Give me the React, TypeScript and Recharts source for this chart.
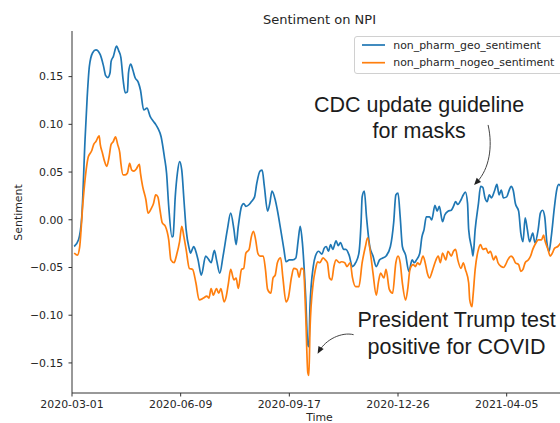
import { LineChart, Line, XAxis, YAxis, ReferenceDot } from "recharts";

// days since 2020-03-01, smoothed sentiment score
const geoSentiment: [number, number][] = [
  [2, -0.028], [6, -0.021], [9, 0.003], [12, 0.084], [14, 0.129], [16, 0.161], [19, 0.175], [22, 0.178],
  [26, 0.173], [29, 0.161], [31, 0.151], [33, 0.149], [35, 0.154], [36, 0.166], [38, 0.171], [41, 0.182],
  [43, 0.177], [45, 0.17], [47, 0.147], [49, 0.133], [51, 0.134], [52, 0.154], [54, 0.163], [56, 0.157],
  [58, 0.149], [61, 0.144], [63, 0.136], [66, 0.115], [69, 0.117], [72, 0.108], [75, 0.103], [77, 0.1],
  [79, 0.096], [82, 0.087], [85, 0.066], [87, 0.049], [89, 0.014], [92, -0.018], [93, -0.017], [95, 0.024],
  [97, 0.049], [99, 0.061], [101, 0.052], [103, 0.021], [105, -0.01], [108, -0.031], [109, -0.035], [112, -0.028],
  [113, -0.03], [116, -0.042], [119, -0.058], [123, -0.038], [126, -0.042], [128, -0.045], [131, -0.032], [133, -0.042],
  [136, -0.056], [139, -0.038], [143, -0.01], [146, 0.007], [149, -0.01], [151, -0.026], [153, -0.007], [156, 0.014],
  [158, 0.017], [160, 0.014], [163, 0.016], [165, 0.019], [168, 0.024], [170, 0.038], [173, 0.051], [175, 0.052],
  [177, 0.035], [180, 0.009], [182, 0.017], [184, 0.03], [187, 0.021], [189, 0.01], [192, -0.01], [195, -0.031],
  [197, -0.044], [200, -0.042], [203, -0.042], [206, -0.04], [208, -0.023], [210, -0.007], [212, -0.024], [215, -0.08],
  [217, -0.131], [218, -0.133], [219, -0.091], [222, -0.049], [224, -0.038], [227, -0.033], [230, -0.036], [232, -0.03],
  [234, -0.028], [236, -0.033], [238, -0.026], [240, -0.031], [243, -0.022], [245, -0.027], [247, -0.024], [250, -0.031],
  [252, -0.031], [255, -0.037], [258, -0.049], [261, -0.045], [264, -0.035], [266, -0.003], [267, 0.024], [269, 0.03],
  [271, 0.003], [274, -0.028], [277, -0.038], [280, -0.049], [283, -0.042], [286, -0.04], [289, -0.038], [293, -0.028],
  [296, -0.003], [298, 0.026], [300, 0.028], [302, 0.003], [304, -0.028], [307, -0.037], [310, -0.054], [313, -0.042],
  [315, -0.045], [317, -0.042], [320, -0.035], [322, -0.018], [324, -0.01], [326, 0.003], [329, 0.003], [331, 0.0],
  [334, 0.015], [336, 0.009], [338, 0.014], [341, -0.002], [343, 0.005], [346, 0.009], [349, 0.01], [351, 0.014],
  [353, 0.019], [355, 0.016], [358, 0.021], [360, 0.026], [362, 0.029], [364, 0.017], [365, -0.01], [368, -0.031],
  [369, -0.038], [371, -0.01], [374, 0.017], [376, 0.035], [378, 0.034], [380, 0.023], [382, 0.019], [384, 0.026],
  [386, 0.023], [389, 0.031], [391, 0.037], [393, 0.026], [395, 0.031], [397, 0.023], [400, 0.024], [402, 0.03],
  [404, 0.035], [406, 0.031], [408, 0.017], [411, 0.009], [413, -0.014], [415, -0.023], [417, 0.002], [419, -0.01],
  [421, -0.023], [424, -0.014], [426, -0.024], [429, -0.01], [431, 0.007], [433, 0.01], [435, 0.003], [437, -0.024],
  [439, -0.033], [441, -0.018], [444, 0.014], [446, 0.031], [448, 0.037], [450, 0.035], [455, 0.03],
];

const nogeoSentiment: [number, number][] = [
  [2, -0.035], [5, -0.037], [7, -0.029], [10, 0.017], [13, 0.052], [15, 0.066], [18, 0.072], [20, 0.079],
  [22, 0.082], [25, 0.088], [26, 0.079], [28, 0.07], [30, 0.061], [32, 0.056], [34, 0.065], [36, 0.079],
  [38, 0.082], [40, 0.087], [42, 0.079], [44, 0.07], [45, 0.059], [47, 0.047], [49, 0.047], [51, 0.049],
  [53, 0.059], [55, 0.052], [57, 0.051], [59, 0.053], [62, 0.058], [63, 0.049], [65, 0.035], [68, 0.021],
  [70, 0.007], [73, 0.012], [75, 0.017], [77, 0.026], [79, 0.024], [81, 0.01], [83, -0.003], [86, -0.007],
  [89, -0.021], [91, -0.042], [94, -0.045], [96, -0.038], [99, -0.023], [101, -0.007], [103, -0.018], [105, -0.031],
  [108, -0.051], [111, -0.052], [114, -0.066], [117, -0.084], [121, -0.082], [124, -0.08], [126, -0.082], [128, -0.072],
  [130, -0.079], [133, -0.072], [135, -0.077], [137, -0.072], [140, -0.086], [142, -0.08], [144, -0.066], [146, -0.052],
  [149, -0.063], [151, -0.061], [153, -0.072], [156, -0.052], [158, -0.051], [160, -0.035], [163, -0.031], [165, -0.018],
  [167, -0.012], [169, -0.021], [171, -0.035], [173, -0.038], [176, -0.038], [178, -0.052], [180, -0.073], [183, -0.077],
  [185, -0.061], [187, -0.058], [189, -0.045], [192, -0.04], [194, -0.06], [197, -0.086], [199, -0.082], [202, -0.06],
  [204, -0.051], [207, -0.052], [209, -0.06], [211, -0.051], [213, -0.052], [215, -0.098], [217, -0.16], [218, -0.163],
  [219, -0.115], [222, -0.066], [224, -0.052], [226, -0.044], [228, -0.045], [231, -0.04], [233, -0.042], [235, -0.045],
  [237, -0.061], [239, -0.063], [241, -0.049], [243, -0.042], [246, -0.045], [248, -0.044], [251, -0.045], [253, -0.049],
  [256, -0.045], [258, -0.06], [261, -0.07], [264, -0.07], [267, -0.045], [270, -0.028], [272, -0.019], [275, -0.038],
  [277, -0.056], [280, -0.079], [282, -0.065], [284, -0.056], [287, -0.061], [289, -0.052], [292, -0.073], [295, -0.077],
  [298, -0.045], [300, -0.038], [302, -0.045], [304, -0.066], [307, -0.084], [309, -0.072], [311, -0.052], [314, -0.047],
  [316, -0.049], [318, -0.045], [320, -0.047], [323, -0.038], [325, -0.045], [327, -0.056], [329, -0.061], [332, -0.052],
  [334, -0.045], [337, -0.038], [339, -0.045], [341, -0.035], [344, -0.042], [346, -0.033], [349, -0.038], [351, -0.033],
  [353, -0.031], [355, -0.042], [358, -0.051], [360, -0.045], [362, -0.052], [365, -0.066], [366, -0.084], [368, -0.091],
  [369, -0.08], [371, -0.052], [374, -0.031], [376, -0.026], [378, -0.031], [381, -0.03], [383, -0.035], [385, -0.033],
  [388, -0.042], [390, -0.038], [392, -0.045], [395, -0.049], [397, -0.05], [399, -0.047], [401, -0.042], [404, -0.038],
  [406, -0.04], [408, -0.045], [411, -0.047], [413, -0.054], [415, -0.052], [417, -0.045], [420, -0.042], [422, -0.038],
  [424, -0.031], [427, -0.024], [429, -0.021], [432, -0.021], [434, -0.016], [435, -0.021], [438, -0.031], [440, -0.038],
  [442, -0.035], [444, -0.03], [447, -0.028], [450, -0.024], [455, -0.022],
];

const xTicks = [0, 100, 200, 300, 400];
const yTicks = [-0.15, -0.1, -0.05, 0, 0.05, 0.1, 0.15];
const xDomain: [number, number] = [0, 455.5];
const yDomain: [number, number] = [-0.1815, 0.1978];

const startDate = Date.UTC(2020, 2, 1);
const dayLabel = (d: number) => new Date(startDate + d * 86400000).toISOString().slice(0, 10);
const scoreLabel = (v: number) => (Math.abs(v) < 1e-9 ? "0.00" : v.toFixed(2).replace("-", "\u2212"));

const toRows = (pts: [number, number][]) => pts.map(([day, value]) => ({ day, value }));

const font = "DejaVu Sans, sans-serif";
const noteFont = "Liberation Sans, Arial, sans-serif";
const ink = "#262626";

// filled arrow head pointing at (0,0), coming from (fx, fy)
const headPoints = (fx: number, fy: number, len = 7, half = 3) => {
  const n = Math.hypot(fx, fy);
  const ux = -fx / n;
  const uy = -fy / n;
  const bx = -ux * len;
  const by = -uy * len;
  return `0,0 ${bx + uy * half},${by - ux * half} ${bx - uy * half},${by + ux * half}`;
};

const CdcNote = (props: any) => {
  const { cx, cy } = props;
  return (
    <g transform={`translate(${cx},${cy})`}>
      <text x={-55} y={-73} textAnchor="middle" fontFamily={noteFont} fontSize={21.5} fill="#1c1c1c">
        CDC update guideline
      </text>
      <text x={-55} y={-47} textAnchor="middle" fontFamily={noteFont} fontSize={21.5} fill="#1c1c1c">
        for masks
      </text>
      <path d="M 14 -60 C 19 -38, 15 -16, 3 -3" fill="none" stroke="#444" strokeWidth={1} />
      <polygon points={headPoints(15, -16)} fill="#222" />
    </g>
  );
};

const TrumpNote = (props: any) => {
  const { cx, cy } = props;
  return (
    <g transform={`translate(${cx},${cy})`}>
      <text x={139} y={-27} textAnchor="middle" fontFamily={noteFont} fontSize={21.5} fill="#1c1c1c">
        President Trump test
      </text>
      <text x={139} y={0} textAnchor="middle" fontFamily={noteFont} fontSize={21.5} fill="#1c1c1c">
        positive for COVID
      </text>
      <path d="M 36 -19 C 24 -22, 8 -14, 2 -3" fill="none" stroke="#444" strokeWidth={1} />
      <polygon points={headPoints(8, -14)} fill="#222" />
    </g>
  );
};

export default function App() {
  return (
    <div style={{ position: "absolute", left: 0, top: 0, width: 560, height: 423, overflow: "hidden", background: "#fff" }}>
      <LineChart width={580} height={423} margin={{ top: 31, right: 13, bottom: 0, left: 0 }}>
        <XAxis
          xAxisId="top"
          orientation="top"
          type="number"
          domain={xDomain}
          allowDataOverflow
          height={0}
          tick={false}
          tickLine={false}
          stroke="#333"
        />
        <XAxis
          dataKey="day"
          type="number"
          domain={xDomain}
          allowDataOverflow
          ticks={xTicks}
          tickFormatter={dayLabel}
          height={30}
          stroke="#333"
          tickSize={3.5}
          tickMargin={3.8}
          tick={{ fontSize: 10.9, fill: ink, fontFamily: font }}
        />
        <YAxis
          type="number"
          domain={yDomain}
          allowDataOverflow
          ticks={yTicks}
          tickFormatter={scoreLabel}
          width={72}
          stroke="#333"
          tickSize={3.5}
          tickMargin={5.2}
          tick={{ fontSize: 10.9, fill: ink, fontFamily: font }}
        />
        <Line
          data={toRows(geoSentiment)}
          dataKey="value"
          name="non_pharm_geo_sentiment"
          type="monotone"
          stroke="#1f77b4"
          strokeWidth={1.7}
          dot={false}
          isAnimationActive={false}
        />
        <Line
          data={toRows(nogeoSentiment)}
          dataKey="value"
          name="non_pharm_nogeo_sentiment"
          type="monotone"
          stroke="#ff7f0e"
          strokeWidth={1.7}
          dot={false}
          isAnimationActive={false}
        />
        <ReferenceDot x={370} y={0.0365} r={0} shape={CdcNote} />
        <ReferenceDot x={226} y={-0.1403} r={0} shape={TrumpNote} />
      </LineChart>

      <svg width={560} height={423} style={{ position: "absolute", left: 0, top: 0, pointerEvents: "none" }}>
        <text x={319.5} y={24} textAnchor="middle" fontFamily={font} fontSize={13} fill={ink}>
          Sentiment on NPI
        </text>
        <text
          transform="translate(18.5,212.5) rotate(-90)"
          textAnchor="middle"
          dominantBaseline="central"
          fontFamily={font}
          fontSize={10.9}
          fill={ink}
        >
          Sentiment
        </text>
        <text x={319.5} y={421} textAnchor="middle" fontFamily={font} fontSize={10.9} fill={ink}>
          Time
        </text>

        <rect x={354.5} y={36.5} width={212} height={37} rx={2.5} fill="rgba(255,255,255,0.8)" stroke="#d0d0d0" />
        <line x1={362} x2={385} y1={45} y2={45} stroke="#1f77b4" strokeWidth={1.7} />
        <text x={393.3} y={45} dominantBaseline="central" fontFamily={font} fontSize={10.9} fill={ink}>
          non_pharm_geo_sentiment
        </text>
        <line x1={362} x2={385} y1={62.7} y2={62.7} stroke="#ff7f0e" strokeWidth={1.7} />
        <text x={393.3} y={62.7} dominantBaseline="central" fontFamily={font} fontSize={10.9} fill={ink}>
          non_pharm_nogeo_sentiment
        </text>
      </svg>
    </div>
  );
}
